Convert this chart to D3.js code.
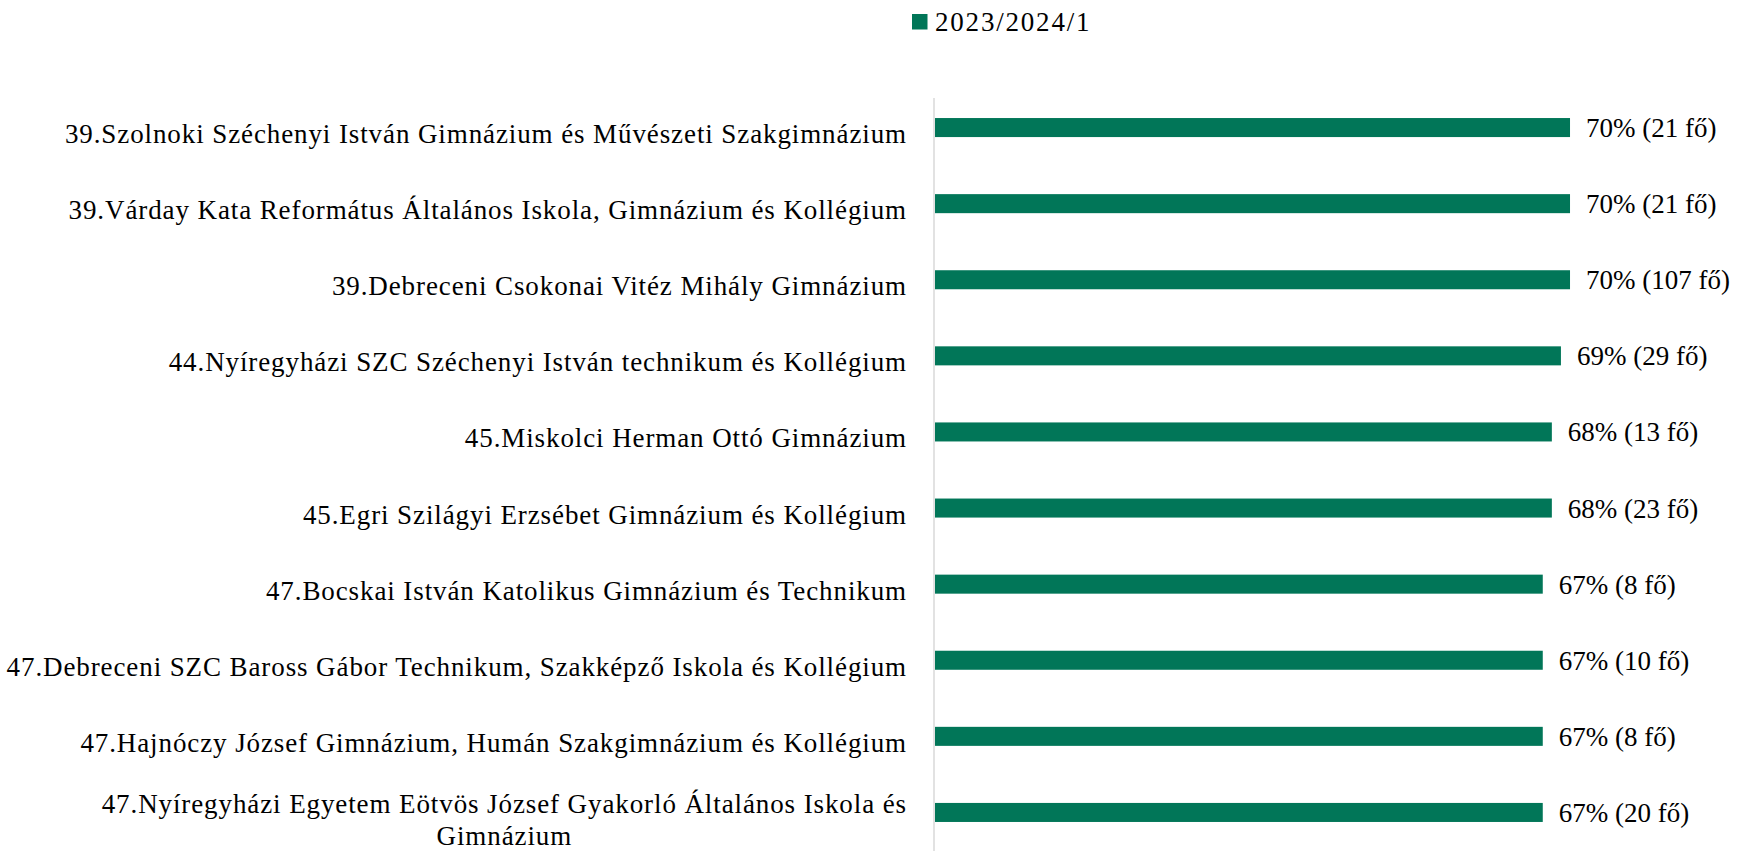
<!DOCTYPE html>
<html>
<head>
<meta charset="utf-8">
<script src="https://cdn.jsdelivr.net/npm/d3@7"></script>
<style>
  body { margin: 0; background: #fff; }
  text { font-family: "Liberation Serif", "DejaVu Serif", serif; fill: #000; }
</style>
</head>
<body>
<svg id="chart"></svg>
<script>
// data
const categories = [
    "39.Szolnoki Széchenyi István Gimnázium és Művészeti Szakgimnázium",
    "39.Várday Kata Református Általános Iskola, Gimnázium és Kollégium",
    "39.Debreceni Csokonai Vitéz Mihály Gimnázium",
    "44.Nyíregyházi SZC Széchenyi István technikum és Kollégium",
    "45.Miskolci Herman Ottó Gimnázium",
    "45.Egri Szilágyi Erzsébet Gimnázium és Kollégium",
    "47.Bocskai István Katolikus Gimnázium és Technikum",
    "47.Debreceni SZC Baross Gábor Technikum, Szakképző Iskola és Kollégium",
    "47.Hajnóczy József Gimnázium, Humán Szakgimnázium és Kollégium",
    "47.Nyíregyházi Egyetem Eötvös József Gyakorló Általános Iskola és\nGimnázium"
];
const shares = [0.70, 0.70, 0.70, 0.69, 0.68, 0.68, 0.67, 0.67, 0.67, 0.67];
const headcounts = [21, 21, 107, 29, 13, 23, 8, 10, 8, 20];
const seriesName = "2023/2024/1";

const W = 1738, H = 851;
const barColor = "#017658";

const svg = d3.select("#chart")
    .attr("width", W)
    .attr("height", H);

svg.append("rect").attr("width", W).attr("height", H).attr("fill", "#fff");

const rows = categories.map((c, i) => ({ name: c, share: shares[i], n: headcounts[i] }));

const x = d3.scaleLinear()
    .domain([0, 1])
    .range([934, 934 + 908.6]);

const y = d3.scaleBand()
    .domain(categories)
    .range([89.5, 850.5])
    .paddingInner(0.75)
    .paddingOuter(0.375);

// legend
const legend = svg.append("g").attr("transform", "translate(912,14)");
legend.append("rect")
    .attr("width", 15.5).attr("height", 15.5)
    .attr("fill", barColor);
legend.append("text")
    .attr("x", 23).attr("y", 16.5)
    .style("font-size", "27px")
    .style("letter-spacing", "1.8px")
    .text(seriesName);

// vertical axis line
svg.append("line")
    .attr("x1", x(0)).attr("x2", x(0))
    .attr("y1", 98).attr("y2", H)
    .attr("stroke", "#d9d9d9")
    .attr("stroke-width", 1.5);

// bars
svg.selectAll(".bar")
    .data(rows)
    .enter()
    .append("rect")
        .attr("class", "bar")
        .attr("x", x(0) + 1)
        .attr("y", d => y(d.name))
        .attr("width", d => x(d.share) - x(0) - 1)
        .attr("height", y.bandwidth())
        .attr("fill", barColor);

// value labels
svg.selectAll(".val")
    .data(rows)
    .enter()
    .append("text")
        .attr("class", "val")
        .attr("x", d => x(d.share) + 16)
        .attr("y", d => y(d.name) + y.bandwidth() / 2)
        .attr("dy", "0.35em")
        .style("font-size", "27px")
        .text(d => `${Math.round(d.share * 100)}% (${d.n} fő)`);

// category labels (can be two lines)
const lineGap = 32;
const cats = svg.selectAll(".cat")
    .data(rows)
    .enter()
    .append("text")
        .attr("class", "cat")
        .attr("text-anchor", "end")
        .style("font-size", "27px")
        .style("letter-spacing", "0.9px");

cats.each(function(d) {
    const lines = d.name.split("\n");
    const cy = y(d.name) + y.bandwidth() / 2;
    const t = d3.select(this);
    if (lines.length === 1) {
        t.attr("x", 907).attr("y", cy + 15.5).text(lines[0]);
    } else {
        // second line is centred under the first one
        const first = t.append("tspan").attr("x", 907).attr("y", cy + 1).text(lines[0]);
        const w = first.node().getComputedTextLength();
        t.append("tspan")
            .attr("x", 907 - w / 2)
            .attr("y", cy + 1 + lineGap)
            .attr("text-anchor", "middle")
            .text(lines[1]);
    }
});
</script>
</body>
</html>
